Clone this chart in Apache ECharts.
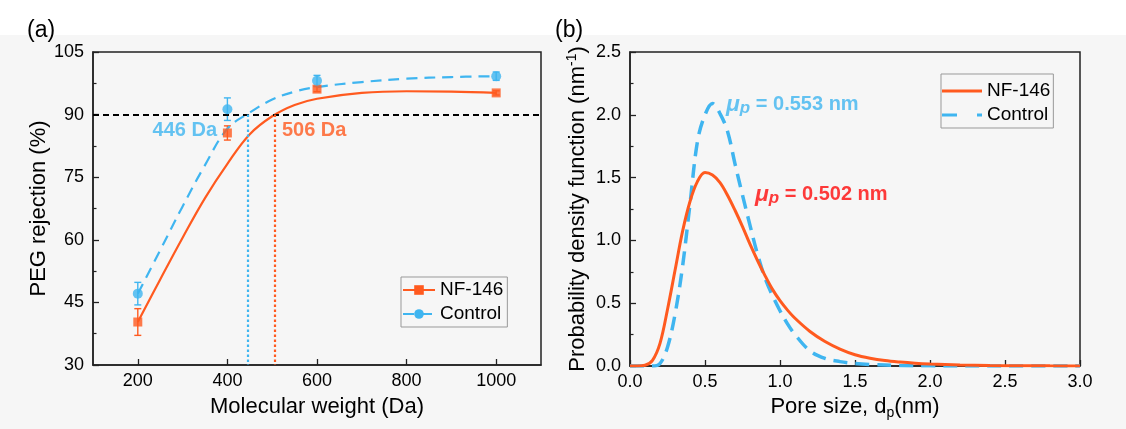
<!DOCTYPE html>
<html><head><meta charset="utf-8">
<script src="https://cdn.jsdelivr.net/npm/echarts@6/dist/echarts.min.js"></script>
<style>
html,body{margin:0;padding:0;}
body{background:linear-gradient(#ffffff 0px, #ffffff 35px, #f6f6f6 35px, #f6f6f6 100%);}
#c{width:1126px;height:429px;}
</style>
</head><body><div id="c"></div>
<script>
// ---------- Panel (a): PEG rejection ----------
const mwPoints = [200, 400, 600, 1000];
const nfRejection = [40.3, 85.6, 96.1, 95.2];
const nfError = [3.2, 1.7, 0.6, 0.5];
const ctrlRejection = [47.1, 91.3, 98.1, 99.2];
const ctrlError = [2.7, 2.7, 1.3, 1.0];
const fitMW = [200, 250, 300, 350, 400, 450, 500, 550, 600, 700, 800, 900, 1000];
const nfFit = [40.3, 50.5, 60.5, 70.0, 78.2, 85.3, 89.6, 92.3, 93.8, 95.2, 95.6, 95.5, 95.2];
const ctrlFit = [47.1, 57.5, 68.0, 77.9, 86.6, 90.5, 93.6, 95.5, 96.6, 97.8, 98.6, 99.0, 99.2];
const cutoffMW = [446, 506];
const cutoffLabels = ['446 Da', '506 Da'];
const rejectionThreshold = 90;
const mwTicks = [200, 400, 600, 800, 1000];

// ---------- Panel (b): pore size distribution ----------
const poreSizeNF = [0, 0.05, 0.1, 0.15, 0.2, 0.25, 0.3, 0.35, 0.4, 0.45, 0.5, 0.55, 0.6, 0.65, 0.7, 0.75, 0.8, 0.85, 0.9, 0.95, 1.0, 1.05, 1.1, 1.2, 1.3, 1.4, 1.5, 1.6, 1.7, 1.8, 1.9, 2.0, 2.2, 2.4, 2.6, 2.8, 3.0];
const pdfNF = [0, 0, 0.006, 0.045, 0.18, 0.45, 0.76, 1.07, 1.31, 1.47, 1.54, 1.52, 1.46, 1.36, 1.24, 1.11, 0.97, 0.84, 0.72, 0.61, 0.52, 0.445, 0.38, 0.275, 0.195, 0.135, 0.09, 0.062, 0.043, 0.031, 0.022, 0.016, 0.008, 0.004, 0.002, 0.001, 0.0005];
const poreSizeCtrl = [0, 0.1, 0.15, 0.2, 0.25, 0.3, 0.35, 0.4, 0.45, 0.5, 0.55, 0.6, 0.65, 0.7, 0.75, 0.8, 0.85, 0.9, 0.95, 1.0, 1.05, 1.1, 1.2, 1.3, 1.4, 1.5, 1.6, 1.8, 2.0, 2.5, 3.0];
const pdfCtrl = [0, 0, 0, 0.02, 0.15, 0.41, 0.79, 1.29, 1.79, 2.0, 2.09, 2.01, 1.87, 1.61, 1.36, 1.12, 0.89, 0.70, 0.56, 0.44, 0.335, 0.25, 0.12, 0.06, 0.035, 0.02, 0.012, 0.004, 0.001, 0, 0];
const meanPore = ['0.553', '0.502'];

const ORANGE = '#FF5A1F';
const BLUE = '#3FB5F0';
const RED = '#FF0A0A';
const AXIS = '#222';
const FONT = '"Liberation Sans", Arial, sans-serif';

const chart = echarts.init(document.getElementById('c'), null, {renderer: 'canvas'});

function errorBars(xs, ys, es, color) {
  return {
    type: 'custom', xAxisIndex: 0, yAxisIndex: 0, z: 3, silent: true,
    data: xs.map((x, i) => [x, ys[i] - es[i], ys[i] + es[i]]),
    encode: {x: 0, y: [1, 2]},
    renderItem: (params, api) => {
      const x = api.value(0);
      const lo = api.coord([x, api.value(1)]);
      const hi = api.coord([x, api.value(2)]);
      const w = 3.5;
      const st = {stroke: color, lineWidth: 1.4, fill: null};
      return {type: 'group', children: [
        {type: 'line', shape: {x1: lo[0], y1: lo[1], x2: hi[0], y2: hi[1]}, style: st},
        {type: 'line', shape: {x1: lo[0] - w, y1: lo[1], x2: lo[0] + w, y2: lo[1]}, style: st},
        {type: 'line', shape: {x1: hi[0] - w, y1: hi[1], x2: hi[0] + w, y2: hi[1]}, style: st}
      ]};
    }
  };
}

const baseAxisLine = {lineStyle: {color: AXIS, width: 1.5}};
const labelStyle = {fontSize: 18, color: '#000', fontFamily: FONT};

const muRich = (color) => ({
  mu: {fontSize: 23, fontStyle: 'italic', fontWeight: 'bold', color: color, fontFamily: FONT, lineHeight: 26},
  p: {fontSize: 17, fontStyle: 'italic', fontWeight: 'bold', color: color, fontFamily: FONT, lineHeight: 16, verticalAlign: 'bottom'},
  t: {fontSize: 20, fontWeight: 'bold', color: color, fontFamily: FONT, lineHeight: 26}
});

const option = {
  animation: false,
  backgroundColor: 'transparent',
  textStyle: {fontFamily: FONT},
  graphic: [
    {type: 'text', left: 27, top: 19, style: {text: '(a)', fontSize: 23, fill: '#000', fontFamily: FONT}},
    {type: 'text', left: 555, top: 19, style: {text: '(b)', fontSize: 23, fill: '#000', fontFamily: FONT}}
  ],
  grid: [
    {left: 93, right: 585, top: 52, bottom: 64, show: true, borderColor: AXIS, borderWidth: 1.5, backgroundColor: 'transparent'},
    {left: 630, right: 46, top: 52, bottom: 63, show: true, borderColor: AXIS, borderWidth: 1.5, backgroundColor: 'transparent'}
  ],
  legend: [
    {
      data: ['NF-146', 'Control'],
      left: 401, top: 277, orient: 'vertical',
      itemWidth: 32, itemHeight: 12, itemGap: 4,
      padding: [3, 4, 3, 1],
      borderColor: '#999', borderWidth: 1, backgroundColor: 'transparent',
      textStyle: {fontSize: 19, color: '#000', fontFamily: FONT, lineHeight: 20},
      selectedMode: false
    },
    {
      data: [
        {name: 'NF-146 (b)', icon: 'path://M0,0H40V3H0Z'},
        {name: 'Control (b)', icon: 'path://M0,0H15V3H0Z M35,0H40V3H35Z'}
      ],
      formatter: (n) => n.replace(' (b)', ''),
      left: 941, top: 74, orient: 'vertical',
      itemWidth: 40, itemHeight: 3, itemGap: 4,
      padding: [7, 3, 3, 1],
      borderColor: '#999', borderWidth: 1, backgroundColor: 'transparent',
      textStyle: {fontSize: 19, color: '#000', fontFamily: FONT, lineHeight: 20},
      selectedMode: false
    }
  ],
  xAxis: [
    {
      gridIndex: 0, type: 'value', min: 100, max: 1100,
      axisLine: baseAxisLine,
      axisTick: {inside: true, length: 6, customValues: mwTicks, lineStyle: {color: AXIS, width: 1.3}},
      axisLabel: Object.assign({customValues: mwTicks, margin: 7, formatter: v => String(v)}, labelStyle),
      splitLine: {show: false},
      name: 'Molecular weight (Da)', nameLocation: 'middle', nameGap: 31,
      nameTextStyle: {fontSize: 22, color: '#000', fontFamily: FONT}
    },
    {
      gridIndex: 1, type: 'value', min: 0, max: 3, interval: 0.5,
      axisLine: baseAxisLine,
      axisTick: {inside: true, length: 6, lineStyle: {color: AXIS, width: 1.3}},
      axisLabel: Object.assign({margin: 7, formatter: v => v.toFixed(1)}, labelStyle),
      splitLine: {show: false},
      name: '{a|Pore size, d}{s|p}{a|(nm)}', nameLocation: 'middle', nameGap: 27,
      nameTextStyle: {fontSize: 22, color: '#000', fontFamily: FONT, rich: {
        a: {fontSize: 22, color: '#000', fontFamily: FONT, lineHeight: 26},
        s: {fontSize: 14, color: '#000', fontFamily: FONT, lineHeight: 14, verticalAlign: 'bottom'}
      }}
    }
  ],
  yAxis: [
    {
      gridIndex: 0, type: 'value', min: 30, max: 105, interval: 15,
      axisLine: {show: true, lineStyle: {color: AXIS, width: 1.5}},
      axisTick: {show: true, inside: true, length: 6, lineStyle: {color: AXIS, width: 1.3}},
      minorTick: {show: true, splitNumber: 2, length: 3.5, lineStyle: {color: AXIS, width: 1.2}},
      axisLabel: Object.assign({margin: 9}, labelStyle),
      splitLine: {show: false},
      name: 'PEG rejection (%)', nameLocation: 'middle', nameGap: 43,
      nameTextStyle: {fontSize: 22, color: '#000', fontFamily: FONT}
    },
    {
      gridIndex: 1, type: 'value', min: 0, max: 2.5, interval: 0.5,
      axisLine: {show: true, lineStyle: {color: AXIS, width: 1.5}},
      axisTick: {show: true, inside: true, length: 6, lineStyle: {color: AXIS, width: 1.3}},
      minorTick: {show: true, splitNumber: 2, length: 3.5, lineStyle: {color: AXIS, width: 1.2}},
      axisLabel: Object.assign({margin: 9, formatter: v => v.toFixed(1)}, labelStyle),
      splitLine: {show: false},
      name: '{a|Probability density function (nm}{s|-1}{a|)}', nameLocation: 'middle', nameGap: 39,
      nameTextStyle: {fontSize: 22, color: '#000', fontFamily: FONT, rich: {
        a: {fontSize: 22, color: '#000', fontFamily: FONT, lineHeight: 26},
        s: {fontSize: 14, color: '#000', fontFamily: FONT, lineHeight: 14, verticalAlign: 'top'}
      }}
    }
  ],
  series: [
    // ---- panel (a) ----
    errorBars(mwPoints, nfRejection, nfError, ORANGE),
    errorBars(mwPoints, ctrlRejection, ctrlError, BLUE),
    {
      name: 'NF-146', type: 'line', xAxisIndex: 0, yAxisIndex: 0, z: 4,
      data: fitMW.map((x, i) => [x, nfFit[i]]),
      smooth: 0.4, symbol: 'rect', showSymbol: false, color: ORANGE,
      lineStyle: {color: ORANGE, width: 2.2, type: 'solid'},
      markLine: {
        silent: true, symbol: 'none', label: {show: false}, animation: false,
        data: [
          [{coord: [100, rejectionThreshold]}, {coord: [1100, rejectionThreshold]}]
        ],
        lineStyle: {color: '#000', width: 2, type: [6, 4]}
      }
    },
    {
      name: 'Control', type: 'line', xAxisIndex: 0, yAxisIndex: 0, z: 4,
      data: fitMW.map((x, i) => [x, ctrlFit[i]]),
      smooth: 0.4, symbol: 'circle', showSymbol: false, color: BLUE,
      lineStyle: {color: BLUE, width: 2.2, type: [11, 7]}
    },
    {
      name: 'NF-146 data', type: 'scatter', xAxisIndex: 0, yAxisIndex: 0, z: 5,
      data: mwPoints.map((x, i) => [x, nfRejection[i]]),
      symbol: 'rect', symbolSize: 9, itemStyle: {color: ORANGE}
    },
    {
      name: 'Control data', type: 'scatter', xAxisIndex: 0, yAxisIndex: 0, z: 5,
      data: mwPoints.map((x, i) => [x, ctrlRejection[i]]),
      symbol: 'circle', symbolSize: 10, itemStyle: {color: BLUE}
    },
    {
      name: 'cutoff lines', type: 'line', xAxisIndex: 0, yAxisIndex: 0, z: 2,
      data: [], showSymbol: false,
      markLine: {
        silent: true, symbol: 'none', label: {show: false}, animation: false,
        data: [
          [{coord: [cutoffMW[0], rejectionThreshold], lineStyle: {color: BLUE}},
           {coord: [cutoffMW[0], 30]}],
          [{coord: [cutoffMW[1], rejectionThreshold], lineStyle: {color: ORANGE}},
           {coord: [cutoffMW[1], 30]}]
        ],
        lineStyle: {width: 2.2, type: [2.5, 2.5]}
      }
    },
    {
      name: 'cutoff labels', type: 'scatter', xAxisIndex: 0, yAxisIndex: 0, z: 6,
      symbolSize: 0, silent: true,
      data: [
        {value: [cutoffMW[0], 86.1], label: {show: true, position: 'left', distance: 31, formatter: cutoffLabels[0], color: BLUE}},
        {value: [cutoffMW[1], 86.1], label: {show: true, position: 'right', distance: 7, formatter: cutoffLabels[1], color: ORANGE}}
      ],
      label: {fontSize: 20, fontWeight: 'bold', fontFamily: FONT}
    },
    // ---- panel (b) ----
    {
      name: 'NF-146 (b)', type: 'line', xAxisIndex: 1, yAxisIndex: 1, z: 4,
      data: poreSizeNF.map((x, i) => [x, pdfNF[i]]),
      smooth: 0.35, symbol: 'none', color: ORANGE,
      lineStyle: {color: ORANGE, width: 3, type: 'solid'}
    },
    {
      name: 'Control (b)', type: 'line', xAxisIndex: 1, yAxisIndex: 1, z: 3,
      data: poreSizeCtrl.map((x, i) => [x, pdfCtrl[i]]),
      smooth: 0.35, symbol: 'none', color: BLUE,
      lineStyle: {color: BLUE, width: 3.5, type: [14, 8]}
    },
    {
      name: 'mu labels', type: 'scatter', xAxisIndex: 1, yAxisIndex: 1, z: 6,
      symbolSize: 0, silent: true,
      data: [
        {value: [0.64, 2.084], label: {show: true, position: 'right', distance: 0,
          formatter: '{mu|\u03bc}{p|p}{t| = ' + meanPore[0] + ' nm}', rich: muRich(BLUE)}},
        {value: [0.833, 1.368], label: {show: true, position: 'right', distance: 0,
          formatter: '{mu|\u03bc}{p|p}{t| = ' + meanPore[1] + ' nm}', rich: muRich(RED)}}
      ]
    }
  ]
};
chart.setOption(option);
</script>
</body></html>
